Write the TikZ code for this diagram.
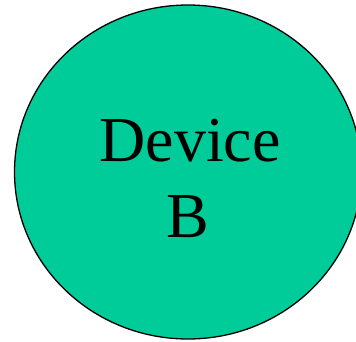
\documentclass[tikz,border=0pt]{standalone}
\usepackage{fontspec}
\setmainfont{Liberation Serif}
\usetikzlibrary{shapes.geometric}
\definecolor{devfill}{HTML}{00CC99}
\begin{document}
\begin{tikzpicture}[x=1pt,y=1pt,
  devshape/.style={ellipse, draw=black, line width=1.3pt, fill=devfill, inner sep=0pt},
  devtext/.style={font=\fontsize{64}{76}\selectfont, inner sep=0pt, anchor=base}]
\useasboundingbox (0,0) rectangle (356,-341);
\clip (0,0) rectangle (356,-341);
\node[devshape, minimum width=347pt, minimum height=334pt] (dev) at (188,-172) {};
\node[devtext] (l1) at (190,-161) {Device};
\node[devtext] (l2) at (188,-237) {B};
\end{tikzpicture}
\end{document}
